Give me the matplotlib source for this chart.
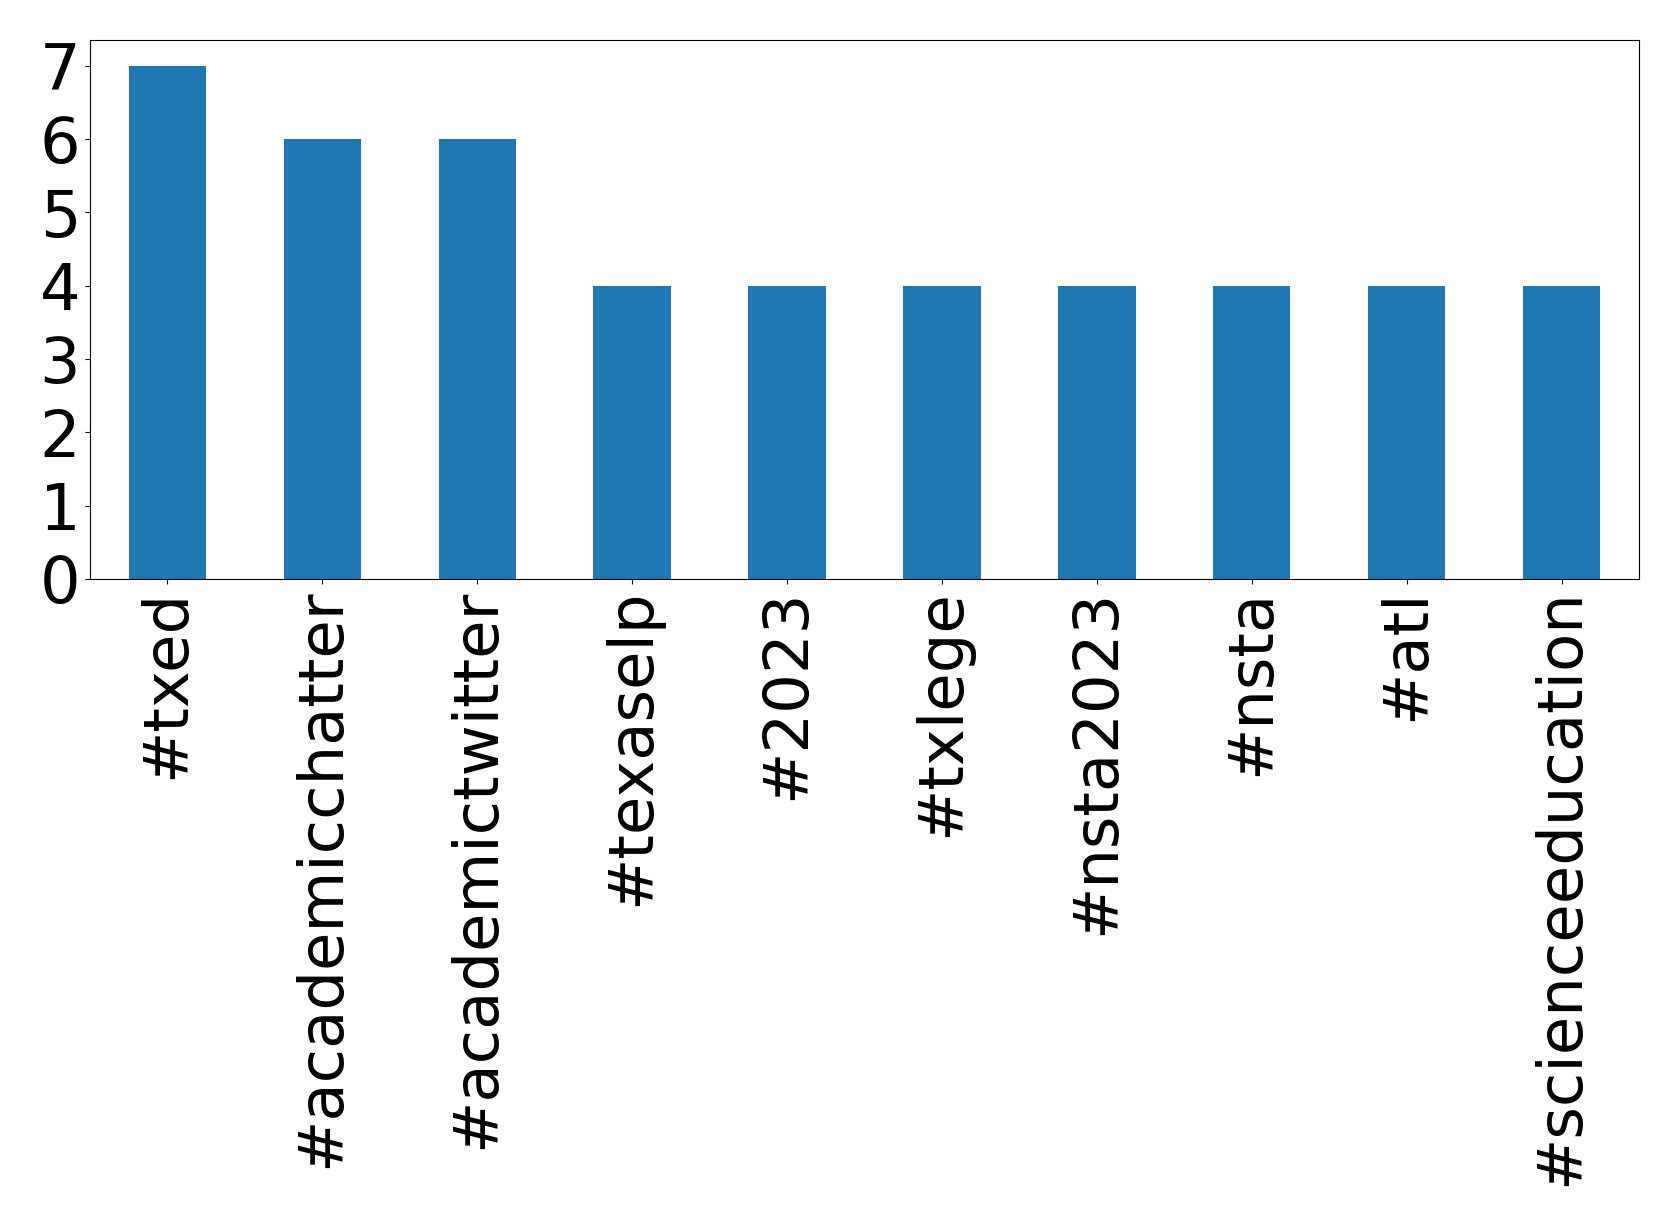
import pandas as pd
import matplotlib
matplotlib.use('Agg')
from matplotlib import pyplot as plt

hashtags = ['#txed', '#academicchatter', '#academictwitter', '#texaselp', '#2023',
            '#txlege', '#nsta2023', '#nsta', '#atl', '#scienceeducation']
counts = [7, 6, 6, 4, 4, 4, 4, 4, 4, 4]

s = pd.Series(counts, index=hashtags)

fig = plt.figure(figsize=(16.79, 12.26), dpi=100)
ax = fig.add_axes([90 / 1679, 1 - 579 / 1226, (1639 - 90) / 1679, (579 - 40) / 1226])
s.plot(kind='bar', ax=ax, color='#1f77b4')
ax.tick_params(axis='x', labelsize=45)
ax.tick_params(axis='y', labelsize=46)
ax.set_yticks(range(0, 8))

fig.savefig('out.png', dpi=100)
